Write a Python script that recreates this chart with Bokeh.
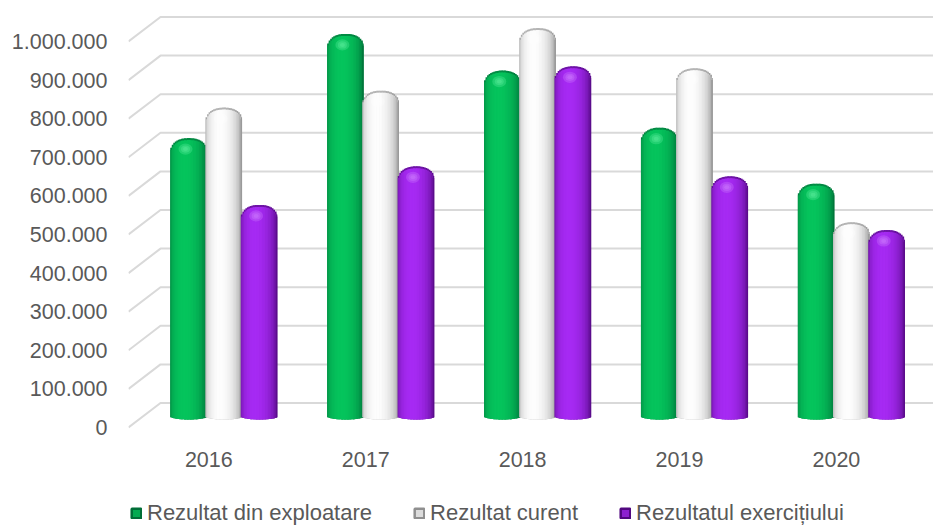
import numpy as np
from bokeh.plotting import figure
from bokeh.models import ColumnDataSource, Range1d, FixedTicker, Legend, LegendItem
from bokeh.core.properties import value
from bokeh.embed import file_html
from bokeh.resources import INLINE

# ---------------- data ----------------
categories = ["2016", "2017", "2018", "2019", "2020"]
series_names = ["Rezultat din exploatare", "Rezultat curent", "Rezultatul exercițiului"]
rezultat_exploatare = [704000, 974000, 879000, 731000, 586000]
rezultat_curent = [783000, 827000, 989000, 885000, 486000]
rezultat_exercitiului = [531000, 631000, 890000, 605000, 466000]
y_ticks = [0, 100000, 200000, 300000, 400000, 500000, 600000, 700000, 800000, 900000, 1000000]
y_tick_labels = ["0", "100.000", "200.000", "300.000", "400.000", "500.000",
                 "600.000", "700.000", "800.000", "900.000", "1.000.000"]

# ---------------- geometry / style ----------------
PX_PER_CAT = 156.9
PX_PER_100K = 38.6
UX = 1.0 / PX_PER_CAT            # x data units per pixel
UY = 100000.0 / PX_PER_100K      # y data units per pixel
LEFT_PX, TOP_PX = 128, 12
FRAME_W, FRAME_H = 805, 514
ZERO_PX = 427                    # screen row of the front 0 line
X0 = -80.3 * UX
DEPTH_DX, DEPTH_DY = 32.0, 24.5  # 3D wall offset (px)
BAR_W_PX, STEP_PX, SHIFT_PX = 36.5, 35.3, 15.0
BASE_PX, LIFT, CAP_PX, RIM_PX, BOT_PX = 8.0, 25000.0, 15.0, 2.0, 3.0
NSTRIP = 24
FONT = "Liberation Sans"
TXT = "#595959"

styles = [  # edge, center, highlight
    ("#006e37", "#05c45c", "#6df5aa"),
    ("#8f8f8f", "#fdfdfd", "#ffffff"),
    ("#520880", "#a62af3", "#d487ff"),
]
values = [rezultat_exploatare, rezultat_curent, rezultat_exercitiului]


def hex2rgb(h):
    h = h.lstrip("#")
    return np.array([int(h[i:i + 2], 16) for i in (0, 2, 4)], dtype=float)


def rgb2hex(c):
    c = np.clip(np.round(c), 0, 255).astype(int)
    return "#%02x%02x%02x" % tuple(c)


def shade(edge, center, u, phi=-0.22, gamma=0.85):
    th = np.arcsin(np.clip(u, -0.999, 0.999))
    s = max(0.0, np.cos(th - phi)) ** gamma
    return hex2rgb(edge) * (1 - s) + hex2rgb(center) * s


y_lo = -(TOP_PX + FRAME_H - ZERO_PX) * UY
y_hi = (ZERO_PX - TOP_PX) * UY
p = figure(frame_width=FRAME_W, frame_height=FRAME_H,
           x_range=Range1d(X0, X0 + FRAME_W * UX),
           y_range=Range1d(y_lo, y_hi),
           x_axis_location=None,
           output_backend="svg", toolbar_location=None,
           min_border_left=LEFT_PX, min_border_right=0,
           min_border_top=TOP_PX, min_border_bottom=0)
p.outline_line_color = None
p.xgrid.visible = False
p.ygrid.visible = False
p.background_fill_color = "white"

# ---------------- 3D gridlines ----------------
xb = X0 + DEPTH_DX * UX
xe = X0 + FRAME_W * UX
gx, gy = [], []
for t in y_ticks:
    gx.append([X0, xb, xe])
    gy.append([t, t + DEPTH_DY * UY, t + DEPTH_DY * UY])
p.multi_line(xs=gx, ys=gy, line_color="#d9d9d9", line_width=2)

# ---------------- cylinder bars (one renderer per series) ----------------
sw = BAR_W_PX / NSTRIP * UX
pexp = 2.3
legend_items = []
nan = float("nan")
for si, (vals, (edge, center, hi), name) in enumerate(zip(values, styles, series_names)):
    L, R, T, B, C = [], [], [], [], []
    for layer in ("rim", "body"):
        for ci, v in enumerate(vals):
            cx = ci + (SHIFT_PX + (si - 1) * STEP_PX) * UX
            left = cx - BAR_W_PX / 2 * UX
            top0 = BASE_PX * UY + v + LIFT
            for k in range(NSTRIP):
                um = -1 + (2 * k + 1) / NSTRIP
                drop = CAP_PX * UY * (1 - (1 - abs(um) ** pexp) ** (1 / pexp))
                col = shade(edge, center, um)
                if layer == "rim":
                    col = col * 0.35 + hex2rgb(edge) * 0.65
                    top = top0 - drop
                else:
                    top = top0 - drop - RIM_PX * UY
                bot = BASE_PX * UY + BOT_PX * UY * (1 - np.sqrt(1 - um ** 2))
                L.append(left + k * sw)
                R.append(left + (k + 1) * sw + (0.7 * UX if k < NSTRIP - 1 else 0))
                T.append(top)
                B.append(bot)
                C.append(rgb2hex(col))
    p.quad(source=ColumnDataSource(dict(left=L, right=R, top=T, bottom=B, color=C)),
           left="left", right="right", top="top", bottom="bottom",
           fill_color="color", line_color=None)

    hx, hy, hw, hh = [], [], [], []
    for ci, v in enumerate(vals):
        cx = ci + (SHIFT_PX + (si - 1) * STEP_PX) * UX
        top0 = BASE_PX * UY + v + LIFT
        for sz in (14, 9, 5):
            hx.append(cx - 3 * UX)
            hy.append(top0 - 11 * UY)
            hw.append(sz * UX)
            hh.append(sz * 0.8 * UY)
    p.ellipse(x=hx, y=hy, width=hw, height=hh, fill_color=hi, fill_alpha=0.28, line_color=None)

    # legend swatch (not drawn in the plot area)
    swatch_fill = rgb2hex(hex2rgb(center) * 0.7 + hex2rgb(edge) * 0.3)
    lr = p.quad(left=[nan], right=[nan], top=[nan], bottom=[nan],
                fill_color=swatch_fill, line_color=edge, line_width=2.5)
    legend_items.append(LegendItem(label=name, renderers=[lr]))

# ---------------- category labels ----------------
p.text(x=list(range(len(categories))), y=[-32 * UY] * len(categories), text=categories,
       text_align="center", text_baseline="middle",
       text_font=value(FONT), text_font_size="21.5px", text_color=TXT)

# ---------------- y axis ----------------
p.yaxis.ticker = FixedTicker(ticks=y_ticks)
p.yaxis.major_label_overrides = {t: s for t, s in zip(y_ticks, y_tick_labels)}
ax = p.yaxis[0]
ax.axis_line_color = None
ax.major_tick_line_color = None
ax.minor_tick_line_color = None
ax.major_tick_out = 0
ax.major_tick_in = 0
ax.major_label_text_font = FONT
ax.major_label_text_font_size = "21.5px"
ax.major_label_text_color = TXT
ax.major_label_standoff = 21

# ---------------- legend ----------------
legend = Legend(items=legend_items, location=(2, 0), orientation="horizontal",
                glyph_width=12, glyph_height=12, label_standoff=5, spacing=41,
                padding=0, margin=0, border_line_color=None, background_fill_alpha=0,
                label_text_font=FONT, label_text_font_size="22px", label_text_color=TXT)
p.add_layout(legend)

open("out.html", "w").write(file_html(p, INLINE))
